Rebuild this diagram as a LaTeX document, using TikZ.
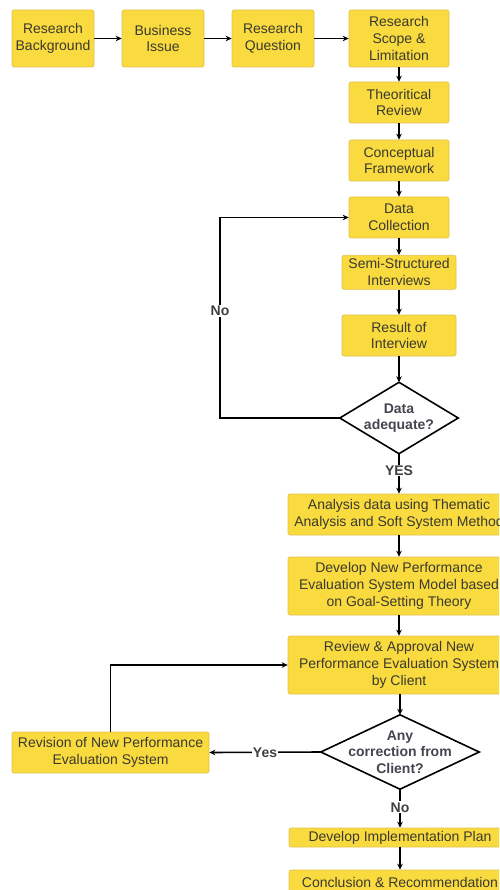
\documentclass[tikz,border=0pt]{standalone}
\usepackage{fontspec}
\setmainfont{Liberation Sans}
\usetikzlibrary{arrows.meta}
\definecolor{boxyellow}{HTML}{F9DA3F}
\definecolor{boxedge}{HTML}{E0C24E}
\definecolor{textgray}{HTML}{3A3A2E}
\definecolor{lblgray}{HTML}{404040}
\definecolor{dgray}{HTML}{45454F}
\tikzset{
  box/.style={draw=boxedge, fill=boxyellow, rounded corners=2pt, line width=0.6pt,
    inner sep=0pt, align=center, text=textgray, font=\fontsize{14}{16.7}\selectfont},
  arr/.style={-{Stealth[length=6pt,width=5.5pt]}, line width=1.6pt, draw=black},
  lbl/.style={fill=white, inner sep=1pt, text=lblgray, font=\bfseries\fontsize{14}{16.7}\selectfont},
  dframe/.style={draw=none, inner sep=0pt},
  dline/.style={draw=black, fill=white, line width=1.6pt, line join=miter},
  dtext/.style={align=center, inner sep=0pt, text=dgray, font=\bfseries\fontsize{14}{16.7}\selectfont}
}
\begin{document}
\begin{tikzpicture}[x=1pt,y=-1pt]
\useasboundingbox (0,0) rectangle (499,890);
\clip (0,0) rectangle (499,890);
% top row
\node[box, minimum width=82pt, minimum height=57pt] (rb) at (53,38.5) {Research\\Background};
\node[box, minimum width=82pt, minimum height=57pt] (bi) at (163,38.5) {Business\\Issue};
\node[box, minimum width=82pt, minimum height=57pt] (rq) at (273,38.5) {Research\\Question};
\node[box, minimum width=100pt, minimum height=57pt] (rs) at (399,38.5) {Research\\Scope \&\\Limitation};
% column
\node[box, minimum width=100pt, minimum height=41pt] (tr) at (399,102.5) {Theoritical\\Review};
\node[box, minimum width=100pt, minimum height=41pt] (cf) at (399,160.5) {Conceptual\\Framework};
\node[box, minimum width=100pt, minimum height=41pt] (dc) at (399,217.5) {Data\\Collection};
\node[box, minimum width=114pt, minimum height=34pt] (ssi) at (399,272.3) {Semi-Structured\\Interviews};
\node[box, minimum width=114pt, minimum height=41pt] (ri) at (399,335.5) {Result of\\Interview};
% diamond 1
\node[dframe, minimum width=118pt, minimum height=71pt] (d1) at (399,418) {};
\draw[dline] (d1.north) -- (d1.east) -- (d1.south) -- (d1.west) -- cycle;
\node[dtext] (d1t) at (399,418) {Data\\adequate?};
% lower column
\node[box, minimum width=222pt, minimum height=41pt] (ana) at (399,514.5) {Analysis data using Thematic\\Analysis and Soft System Method};
\node[box, minimum width=222pt, minimum height=58pt] (dev) at (399,586) {Develop New Performance\\Evaluation System Model based\\on Goal-Setting Theory};
\node[box, minimum width=222pt, minimum height=58pt] (rev) at (399,665) {Review \& Approval New\\Performance Evaluation System\\by Client};
% diamond 2
\node[dframe, minimum width=158pt, minimum height=74pt] (d2) at (400,752) {};
\draw[dline] (d2.north) -- (d2.east) -- (d2.south) -- (d2.west) -- cycle;
\node[dtext] (d2t) at (400,752) {Any\\correction from\\Client?};
\node[box, minimum width=197pt, minimum height=41pt] (rvs) at (110.5,752.5) {Revision of New Performance\\Evaluation System};
\node[box, minimum width=222pt, minimum height=19pt] (imp) at (400,837.5) {Develop Implementation Plan};
\node[box, minimum width=222pt, minimum height=24pt] (con) at (400,882) {Conclusion \& Recommendation};
% connectors
\draw[arr] (rb.east) -- (bi.west);
\draw[arr] (bi.east) -- (rq.west);
\draw[arr] (rq.east) -- (rs.west);
\draw[arr] (rs.south) -- (tr.north);
\draw[arr] (tr.south) -- (cf.north);
\draw[arr] (cf.south) -- (dc.north);
\draw[arr] (dc.south) -- (ssi.north);
\draw[arr] (ssi.south) -- (ri.north);
\draw[arr] (ri.south) -- (d1.north);
\draw[arr] (d1.west) -- ++(-120,0) |- (dc.west);
\node[lbl] (nolbl) at (220,311) {No};
\draw[arr] (d1.south) -- node[lbl, pos=0.42] (yeslbl) {YES} (ana.north);
\draw[arr] (ana.south) -- (dev.north);
\draw[arr] (dev.south) -- (rev.north);
\draw[arr] (d2.north |- rev.south) -- (d2.north);
\draw[arr] (d2.west) -- node[lbl, pos=0.5] (yes2) {Yes} (rvs.east);
\draw[arr] (rvs.north) |- (rev.west);
\draw[arr] (d2.south) -- node[lbl, pos=0.47] (no2) {No} (imp.north);
\draw[arr] (imp.south) -- (con.north);
\end{tikzpicture}
\end{document}
